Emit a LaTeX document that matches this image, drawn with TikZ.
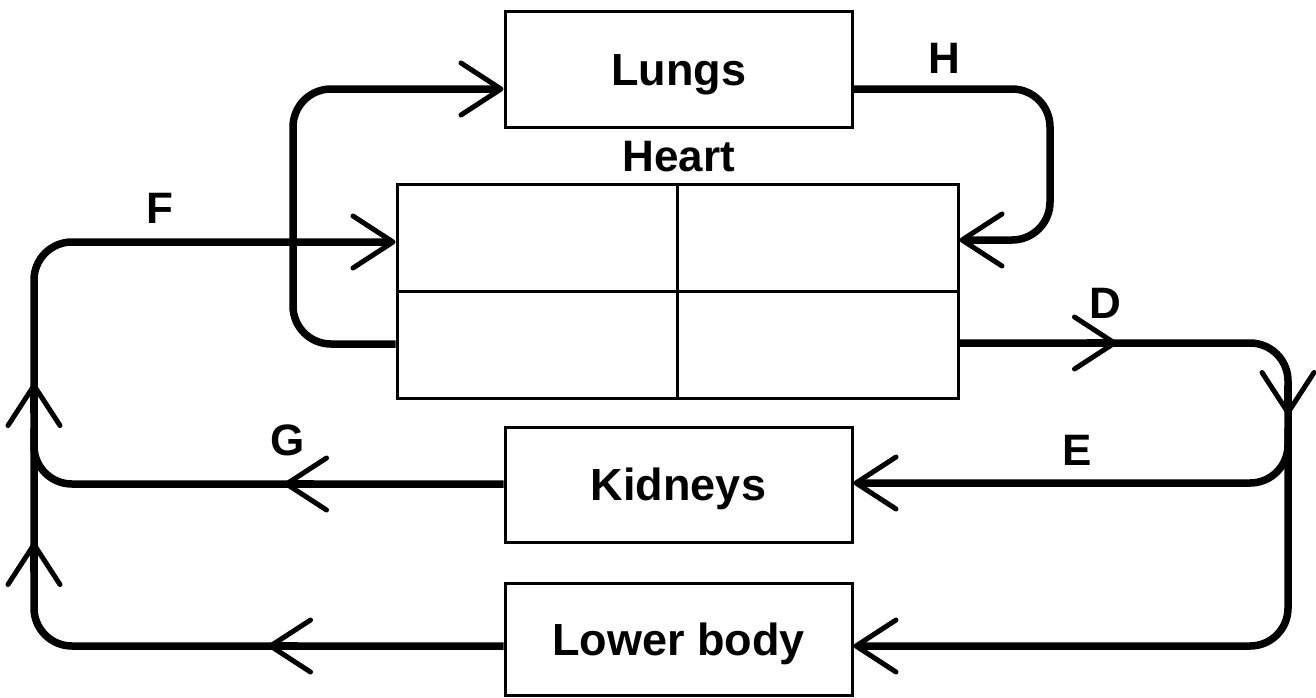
\documentclass[tikz,border=0pt]{standalone}
\usepackage{fontspec}
\setmainfont{Liberation Sans}
\usetikzlibrary{arrows.meta}
\tikzset{
  organ/.style={draw, line width=3pt, inner sep=0pt, minimum width=347pt,
    font=\fontsize{45pt}{50pt}\selectfont\bfseries, text height=32pt, text depth=0pt},
  heartbox/.style={draw, line width=3pt, inner sep=0pt, minimum width=561pt, minimum height=214pt},
  divider/.style={line width=3pt},
  lbl/.style={inner sep=0pt, font=\fontsize{44pt}{50pt}\selectfont\bfseries, text height=31pt, text depth=0pt},
  conn/.style={line width=7.5pt, rounded corners=38pt},
  flow/.style={conn, -{Straight Barb[length=40pt,width=52pt,line width=5pt,round]}},
  midchev/.style={line width=7.5pt, -{Straight Barb[length=40pt,width=52pt,line width=5pt,round]}}
}
\begin{document}
\begin{tikzpicture}[x=1pt,y=-1pt]
\useasboundingbox[fill=white] (0,0) rectangle (1316,697);

% boxes
\node[organ, minimum height=116pt] (lungs) at (678.5,69) {Lungs};
\node[heartbox] (heart) at (677.5,291) {};
\draw[divider] (heart.north) -- (heart.south);
\draw[divider] (heart.west) -- (heart.east);
\node[lbl] (heartlbl) at (679,156) {Heart};
\node[organ, minimum height=115pt] (kidneys) at (678.5,484.5) {Kidneys};
\node[organ, minimum height=112pt] (lower) at (678.5,639) {Lower body};

% helper coordinates
\coordinate (ebranch) at (1288,428);
\coordinate (gjoin) at (34,428);
\coordinate (dtip) at (1117,343);
\coordinate (rtip) at (1288,415);
\coordinate (gtip) at (284,484);
\coordinate (ltip) at (268,646);
\coordinate (uA) at (34,383);
\coordinate (uB) at (34,542);

% connectors
\draw[flow] (heart.west |- 0,344) -- (293,344) -- (293,89) -- (lungs.west |- 0,89);
\draw[flow] (lungs.east |- 0,89) -- (1050,89) -- (1050,240) -- (heart.east |- 0,240);
\draw[flow] (heart.east |- 0,343) -- (1288,343) -- (1288,646) -- (lower.east |- 0,646);
\draw[flow] (ebranch) -- (1288,483) -- (kidneys.east |- 0,483);
\draw[conn] (kidneys.west |- 0,484) -- (34,484) -- (gjoin);
\draw[flow] (lower.west |- 0,646) -- (34,646) -- (34,242) -- (heart.west |- 0,242);

% mid-line chevrons
\draw[midchev] ([xshift=-30pt]dtip) -- (dtip);
\draw[midchev] ([yshift=30pt]rtip) -- (rtip);
\draw[midchev] ([xshift=30pt]gtip) -- (gtip);
\draw[midchev] ([xshift=30pt]ltip) -- (ltip);
\draw[midchev] ([yshift=-30pt]uA) -- (uA);
\draw[midchev] ([yshift=-30pt]uB) -- (uB);

% labels
\node[lbl] (lF) at (160,208) {F};
\node[lbl] (lG) at (288,440) {G};
\node[lbl] (lH) at (944,58) {H};
\node[lbl] (lD) at (1105,303) {D};
\node[lbl] (lE) at (1077,450) {E};
\end{tikzpicture}
\end{document}
